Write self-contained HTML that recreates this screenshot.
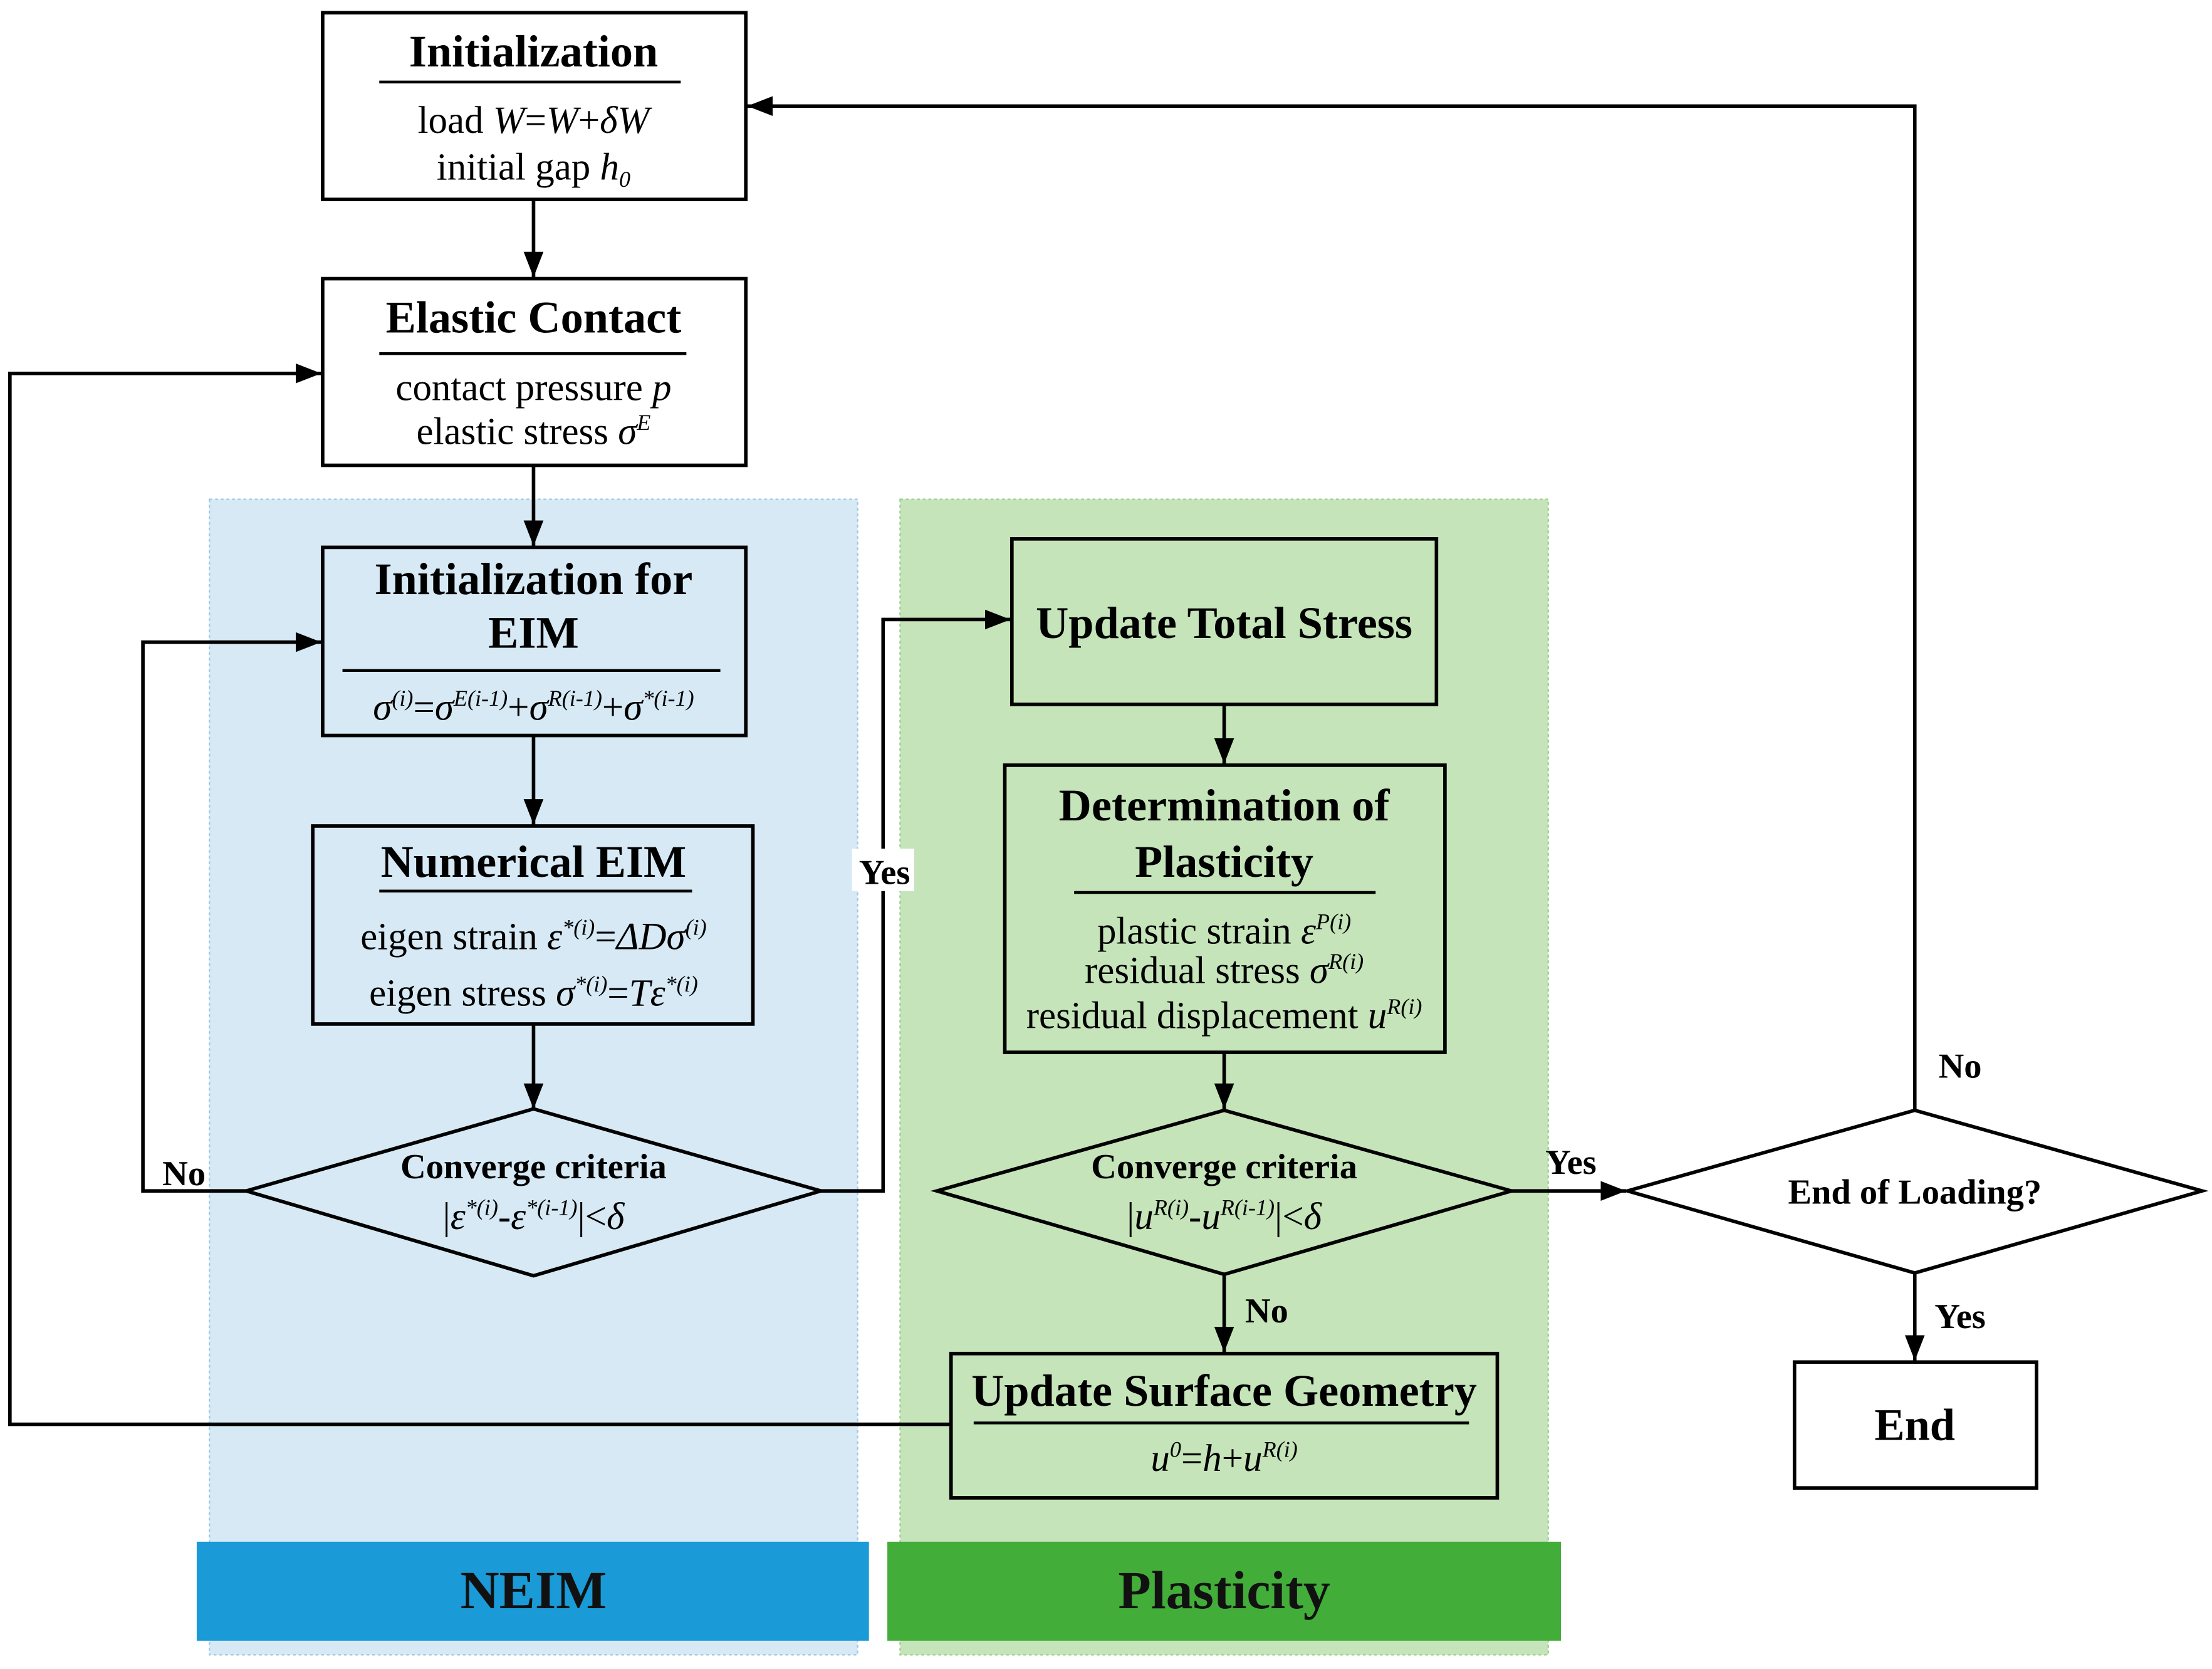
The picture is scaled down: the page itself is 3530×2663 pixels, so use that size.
<!DOCTYPE html>
<html><head><meta charset="utf-8">
<style>
html,body{margin:0;padding:0;background:#fff;}
svg{display:block;}
text{font-family:"Liberation Serif",serif;fill:#000;}
.t{font-weight:bold;font-size:32px;}
.b{font-size:27px;}
.i{font-style:italic;}
.s{font-size:16px;font-style:italic;}
.l{font-weight:bold;font-size:25px;}
</style></head><body>
<svg width="3530" height="2663" viewBox="0 0 1563 1180" preserveAspectRatio="none" xmlns="http://www.w3.org/2000/svg">
<defs>
<marker id="A" markerWidth="18" markerHeight="14" refX="18" refY="7" orient="auto" markerUnits="userSpaceOnUse"><path d="M0,0 L18,7 L0,14 z" fill="#000"/></marker></defs>
<rect width="1563" height="1180" fill="#fff"/>
<rect x="148" y="353" width="458" height="817" fill="#d6e9f5" stroke="#9cc8e4" stroke-dasharray="2,2"/>
<rect x="636" y="353" width="458" height="817" fill="#c5e4b9" stroke="#9ccf8c" stroke-dasharray="2,2"/>
<rect x="139" y="1090" width="475" height="70" fill="#1a9ad7"/>
<rect x="627" y="1090" width="476" height="70" fill="#43ad3a"/>
<text x="377" y="1137" text-anchor="middle" style="font-weight:bold;font-size:38px;fill:#111">NEIM</text>
<text x="865" y="1137" text-anchor="middle" style="font-weight:bold;font-size:38px;fill:#111">Plasticity</text>
<g fill="none" stroke="#000" stroke-width="2.5">
<rect x="228" y="9" width="299" height="132" fill="#fff"/>
<rect x="228" y="197" width="299" height="132" fill="#fff"/>
<rect x="228" y="387" width="299" height="133"/>
<rect x="221" y="584" width="311" height="140"/>
<polygon points="174,842 377,784 580,842 377,902"/>
<rect x="715" y="381" width="300" height="117"/>
<rect x="710" y="541" width="311" height="203"/>
<polygon points="662,842 865,785 1068,842 865,901"/>
<rect x="672" y="957" width="386" height="102"/>
<polygon points="1150,842 1353,785 1556,842 1353,900" fill="#fff"/>
<rect x="1268" y="963" width="171" height="89" fill="#fff"/>
<line x1="268" y1="58" x2="481" y2="58" stroke-width="2"/>
<line x1="268" y1="250" x2="485" y2="250" stroke-width="2"/>
<line x1="242" y1="474" x2="509" y2="474" stroke-width="2"/>
<line x1="268" y1="630" x2="489" y2="630" stroke-width="2"/>
<line x1="759" y1="631" x2="972" y2="631" stroke-width="2"/>
<line x1="688" y1="1006" x2="1038" y2="1006" stroke-width="2"/>
<line x1="377" y1="141" x2="377" y2="196" marker-end="url(#A)"/>
<line x1="377" y1="329" x2="377" y2="386" marker-end="url(#A)"/>
<line x1="377" y1="520" x2="377" y2="583" marker-end="url(#A)"/>
<line x1="377" y1="724" x2="377" y2="784" marker-end="url(#A)"/>
<polyline points="174,842 101,842 101,454 227,454" marker-end="url(#A)"/>
<polyline points="580,842 624,842 624,438 714,438" marker-end="url(#A)"/>
<line x1="865" y1="498" x2="865" y2="540" marker-end="url(#A)"/>
<line x1="865" y1="744" x2="865" y2="784" marker-end="url(#A)"/>
<line x1="865" y1="901" x2="865" y2="956" marker-end="url(#A)"/>
<polyline points="672,1007 7,1007 7,264 227,264" marker-end="url(#A)"/>
<line x1="1068" y1="842" x2="1149" y2="842" marker-end="url(#A)"/>
<polyline points="1353,785 1353,75 528,75" marker-end="url(#A)"/>
<line x1="1353" y1="900" x2="1353" y2="962" marker-end="url(#A)"/>
</g>
<rect x="602" y="600" width="44" height="30" fill="#fff"/>
<text class="t" x="377" y="47" text-anchor="middle">Initialization</text>
<text class="b" x="377" y="94" text-anchor="middle">load <tspan class="i">W</tspan>=<tspan class="i">W</tspan>+<tspan class="i">δW</tspan></text>
<text class="b" x="377" y="127" text-anchor="middle">initial gap <tspan class="i">h</tspan><tspan class="s" dy="5">0</tspan></text>
<text class="t" x="377" y="235" text-anchor="middle">Elastic Contact</text>
<text class="b" x="377" y="283" text-anchor="middle">contact pressure <tspan class="i">p</tspan></text>
<text class="b" x="377" y="314" text-anchor="middle">elastic stress <tspan class="i">σ</tspan><tspan class="s" dy="-10">E</tspan></text>
<text class="t" x="377" y="420" text-anchor="middle">Initialization for</text>
<text class="t" x="377" y="458" text-anchor="middle">EIM</text>
<text class="b" x="377" y="509" text-anchor="middle"><tspan class="i">σ</tspan><tspan class="s" dy="-10">(i)</tspan><tspan dy="10">=</tspan><tspan class="i">σ</tspan><tspan class="s" dy="-10">E(i-1)</tspan><tspan dy="10">+</tspan><tspan class="i">σ</tspan><tspan class="s" dy="-10">R(i-1)</tspan><tspan dy="10">+</tspan><tspan class="i">σ</tspan><tspan class="s" dy="-10">*(i-1)</tspan></text>
<text class="t" x="377" y="620" text-anchor="middle">Numerical EIM</text>
<text class="b" x="377" y="671" text-anchor="middle">eigen strain <tspan class="i">ε</tspan><tspan class="s" dy="-10">*(i)</tspan><tspan dy="10">=</tspan><tspan class="i">ΔDσ</tspan><tspan class="s" dy="-10">(i)</tspan></text>
<text class="b" x="377" y="711" text-anchor="middle">eigen stress <tspan class="i">σ</tspan><tspan class="s" dy="-10">*(i)</tspan><tspan dy="10">=</tspan><tspan class="i">Tε</tspan><tspan class="s" dy="-10">*(i)</tspan></text>
<text class="l" x="377" y="833" text-anchor="middle">Converge criteria</text>
<text class="b" x="377" y="869" text-anchor="middle">|<tspan class="i">ε</tspan><tspan class="s" dy="-10">*(i)</tspan><tspan dy="10">-</tspan><tspan class="i">ε</tspan><tspan class="s" dy="-10">*(i-1)</tspan><tspan dy="10">|&lt;</tspan><tspan class="i">δ</tspan></text>
<text class="l" x="130" y="838" text-anchor="middle">No</text>
<text class="l" x="625" y="625" text-anchor="middle">Yes</text>
<text class="t" x="865" y="451" text-anchor="middle">Update Total Stress</text>
<text class="t" x="865" y="580" text-anchor="middle">Determination of</text>
<text class="t" x="865" y="620" text-anchor="middle">Plasticity</text>
<text class="b" x="865" y="667" text-anchor="middle">plastic strain <tspan class="i">ε</tspan><tspan class="s" dy="-10">P(i)</tspan></text>
<text class="b" x="865" y="695" text-anchor="middle">residual stress <tspan class="i">σ</tspan><tspan class="s" dy="-10">R(i)</tspan></text>
<text class="b" x="865" y="727" text-anchor="middle">residual displacement <tspan class="i">u</tspan><tspan class="s" dy="-10">R(i)</tspan></text>
<text class="l" x="865" y="833" text-anchor="middle">Converge criteria</text>
<text class="b" x="865" y="869" text-anchor="middle">|<tspan class="i">u</tspan><tspan class="s" dy="-10">R(i)</tspan><tspan dy="10">-</tspan><tspan class="i">u</tspan><tspan class="s" dy="-10">R(i-1)</tspan><tspan dy="10">|&lt;</tspan><tspan class="i">δ</tspan></text>
<text class="l" x="895" y="935" text-anchor="middle">No</text>
<text class="t" x="865" y="994" text-anchor="middle">Update Surface Geometry</text>
<text class="b" x="865" y="1040" text-anchor="middle"><tspan class="i">u</tspan><tspan class="s" dy="-10">0</tspan><tspan dy="10">=</tspan><tspan class="i">h</tspan>+<tspan class="i">u</tspan><tspan class="s" dy="-10">R(i)</tspan></text>
<text class="l" x="1110" y="830" text-anchor="middle">Yes</text>
<text class="l" x="1353" y="851" text-anchor="middle">End of Loading?</text>
<text class="l" x="1385" y="762" text-anchor="middle">No</text>
<text class="l" x="1385" y="939" text-anchor="middle">Yes</text>
<text class="t" x="1353" y="1018" text-anchor="middle">End</text>
</svg>
</body></html>
